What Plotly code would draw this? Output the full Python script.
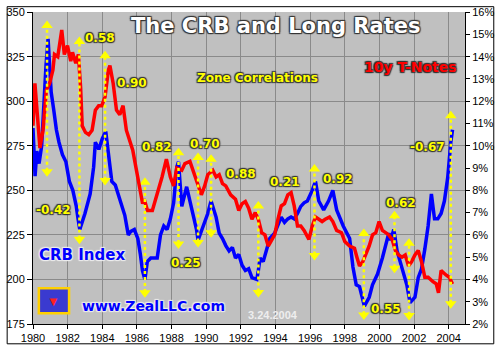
import plotly.graph_objects as go

# ---------------- data ----------------
crb_years = [1980.00, 1980.06, 1980.12, 1980.22, 1980.35, 1980.50, 1980.62, 1980.75, 1980.87, 1980.95,
             1981.05, 1981.20, 1981.35, 1981.50, 1981.70, 1981.90, 1982.10, 1982.30, 1982.50, 1982.60,
             1982.70, 1983.00, 1983.30, 1983.50, 1983.60, 1983.80, 1984.00, 1984.20, 1984.35, 1984.55,
             1984.75, 1984.90, 1985.10, 1985.30, 1985.50, 1985.65, 1985.85, 1986.05, 1986.20, 1986.32,
             1986.46, 1986.60, 1986.80, 1987.17, 1987.36, 1987.55, 1987.74, 1987.93, 1988.12, 1988.30,
             1988.40, 1988.59, 1988.87, 1989.06, 1989.25, 1989.44, 1989.53, 1989.81, 1990.09, 1990.28,
             1990.57, 1990.75, 1990.94, 1991.13, 1991.32, 1991.51, 1991.69, 1991.88, 1992.07, 1992.26,
             1992.45, 1992.64, 1992.92, 1993.01, 1993.11, 1993.29, 1993.48, 1993.67, 1993.95, 1994.14,
             1994.33, 1994.52, 1994.71, 1994.90, 1995.08, 1995.27, 1995.46, 1995.65, 1995.84, 1996.12,
             1996.31, 1996.50, 1996.78, 1997.06, 1997.31, 1997.53, 1997.91, 1998.28, 1998.47, 1998.66,
             1998.85, 1999.13, 1999.41, 1999.60, 1999.89, 2000.17, 2000.36, 2000.54, 2000.64, 2000.83,
             2001.02, 2001.20, 2001.39, 2001.58, 2001.77, 2002.05, 2002.24, 2002.43, 2002.62, 2002.81,
             2003.00, 2003.18, 2003.37, 2003.56, 2003.75, 2003.94, 2004.12, 2004.22]
crb_values = [285, 268, 258, 272, 265, 275, 300, 320, 335, 318,
              305, 295, 284, 277, 270, 266, 255, 250, 241, 234,
              228, 237, 248, 263, 277, 273, 279, 283, 272, 255,
              253, 248, 243, 236, 225, 227, 228, 223, 214, 205,
              200, 210, 212, 212, 225, 230, 228, 234, 243, 263,
              266, 241, 252, 244, 237, 228, 222, 230, 237, 244,
              235, 226, 223, 219, 216, 218, 212, 214, 208, 205,
              206, 201, 200, 205, 212, 210, 216, 223, 226, 230,
              235, 232, 234, 235, 234, 237, 241, 243, 244, 250,
              255, 244, 239, 244, 250, 239, 230, 223, 207, 197,
              196, 185, 190, 197, 203, 212, 219, 226, 222, 228,
              216, 210, 205, 197, 187, 190, 201, 206, 217, 230,
              248, 234, 234, 237, 244, 257, 277, 284]

tnote_years = [1980.00, 1980.11, 1980.25, 1980.40, 1980.58, 1980.77, 1980.96, 1981.15, 1981.24, 1981.43,
               1981.66, 1981.81, 1981.99, 1982.18, 1982.28, 1982.47, 1982.62, 1982.75, 1982.84, 1983.03,
               1983.22, 1983.41, 1983.60, 1983.79, 1983.97, 1984.16, 1984.35, 1984.44, 1984.63, 1984.82,
               1985.01, 1985.20, 1985.39, 1985.57, 1985.76, 1985.95, 1986.14, 1986.33, 1986.42, 1986.61,
               1986.89, 1987.17, 1987.45, 1987.70, 1987.93, 1988.12, 1988.30, 1988.59, 1988.77, 1989.06,
               1989.34, 1989.53, 1989.72, 1989.91, 1990.09, 1990.38, 1990.57, 1990.75, 1990.94, 1991.13,
               1991.41, 1991.69, 1991.88, 1992.07, 1992.26, 1992.45, 1992.64, 1992.83, 1993.01, 1993.20,
               1993.39, 1993.58, 1993.77, 1993.95, 1994.14, 1994.33, 1994.52, 1994.71, 1994.90, 1995.08,
               1995.27, 1995.46, 1995.65, 1995.93, 1996.12, 1996.31, 1996.50, 1996.69, 1996.87, 1997.12,
               1997.31, 1997.53, 1997.81, 1998.00, 1998.28, 1998.56, 1998.70, 1998.85, 1999.04, 1999.22,
               1999.41, 1999.60, 1999.79, 1999.98, 2000.17, 2000.36, 2000.54, 2000.73, 2000.92, 2001.11,
               2001.30, 2001.49, 2001.68, 2001.86, 2002.05, 2002.24, 2002.43, 2002.62, 2002.81, 2003.09,
               2003.28, 2003.41, 2003.56, 2003.84, 2004.03, 2004.22]
tnote_values = [10.9, 12.8, 11.4, 9.9, 10.7, 12.5, 12.8, 13.4, 14.1, 14.0,
                15.2, 14.1, 14.5, 13.8, 14.2, 13.7, 14.1, 12.6, 10.9, 10.6,
                10.5, 10.7, 11.6, 11.8, 11.8, 12.2, 13.4, 13.6, 12.8, 11.6,
                11.4, 11.8, 10.7, 10.3, 9.8, 9.0, 8.2, 7.4, 7.6, 7.1,
                7.1, 7.8, 8.6, 9.4, 8.6, 8.2, 9.0, 8.9, 9.2, 9.3,
                8.7, 8.2, 7.8, 8.2, 8.7, 8.9, 8.6, 8.7, 8.3, 8.2,
                7.8, 7.6, 7.1, 7.4, 7.5, 7.2, 6.7, 7.0, 6.7, 6.1,
                6.0, 5.5, 5.8, 6.0, 6.7, 7.3, 7.4, 7.8, 7.9, 7.3,
                6.4, 6.4, 6.2, 5.8, 6.4, 6.8, 6.7, 6.6, 6.7, 6.8,
                6.6, 6.2, 6.1, 5.7, 5.5, 5.4, 5.0, 4.6, 4.8, 5.1,
                5.5, 6.0, 6.1, 6.6, 6.2, 6.1, 6.0, 5.8, 5.3, 5.1,
                5.0, 5.1, 4.6, 4.8, 5.1, 5.3, 4.8, 4.1, 4.1, 3.9,
                3.8, 3.4, 4.4, 4.2, 4.1, 3.8]

# zone boundary arrows (year, top, bottom) in CRB units
arrow_years = [1980.81, 1982.68, 1984.16, 1986.46, 1988.40, 1989.53, 1990.28,
               1993.01, 1996.25, 1999.10, 2000.87, 2001.71, 2004.12]
arrow_tops = [345, 336, 328, 257, 273.6, 271, 270, 243.7, 264.5, 228.3, 238.2, 222.8, 294.4]
arrow_bottoms = [258, 220, 253, 190, 217.4, 218.3, 223.7, 190.2, 211, 177.5, 203.8, 177.2, 183.9]

# zone correlation labels
corr_labels = ["-0.42", "0.58", "0.90", "0.82", "0.25", "0.70", "0.88",
               "0.21", "0.92", "0.55", "0.62", "-0.67"]
corr_x = [1981.17, 1983.88, 1985.71, 1987.18, 1988.83, 1989.92, 1991.98,
          1994.52, 1997.61, 2000.40, 2001.24, 2002.77]
corr_y = [239, 335.7, 310.3, 274.1, 209.2, 275.9, 259, 254.5, 256.3, 183.3, 243, 274.1]

left_ticks = [175, 200, 225, 250, 275, 300, 325, 350]
right_ticks = list(range(2, 17))
right_labels = [f"{v}%" for v in right_ticks]
x_ticks = list(range(1980, 2005, 2))

# ---------------- figure ----------------
L, R, T, B = 27, 30, 6, 21
W, H = 500, 350
PW, PH = W - L - R, H - T - B

def px(x):
    return (x - L) / PW

def py(y):
    return (H - B - y) / PH

fig = go.Figure()

fig.add_trace(go.Scatter(x=tnote_years, y=tnote_values, yaxis="y2", mode="lines",
                         line=dict(color="#FF0000", width=3.5), hoverinfo="skip"))
fig.add_trace(go.Scatter(x=crb_years, y=crb_values, mode="lines",
                         line=dict(color="#0000FF", width=3.5), hoverinfo="skip"))

YEL = "#FFFF00"
for xa, t, b in zip(arrow_years, arrow_tops, arrow_bottoms):
    fig.add_shape(type="line", x0=xa, x1=xa, y0=b + 3, y1=t - 3, xref="x", yref="y",
                  line=dict(color=YEL, width=2.5, dash="dot"), layer="above")

fig.add_trace(go.Scatter(x=arrow_years, y=[t - 2.5 for t in arrow_tops], mode="markers",
                         marker=dict(symbol="triangle-up", size=10, color=YEL, line=dict(width=0)),
                         hoverinfo="skip"))
fig.add_trace(go.Scatter(x=arrow_years, y=[b + 2.5 for b in arrow_bottoms], mode="markers",
                         marker=dict(symbol="triangle-down", size=10, color=YEL, line=dict(width=0)),
                         hoverinfo="skip"))

dark_outline = "1px 1px 1px #333, -1px -1px 1px #333, 1px -1px 1px #333, -1px 1px 1px #333"
light_outline = "1px 1px 1px #eee, -1px -1px 1px #eee, 1px -1px 1px #eee, -1px 1px 1px #eee"
BOLD = "DejaVu Sans, Verdana, sans-serif"

for txt, xx, yy in zip(corr_labels, corr_x, corr_y):
    fig.add_annotation(x=xx, y=yy, xref="x", yref="y", text=txt, showarrow=False,
                       xanchor="center", yanchor="middle",
                       font=dict(family=BOLD, size=12, color=YEL, weight="bold", shadow=dark_outline))

texts = [
    ("The CRB and Long Rates", 276, 20, 21, "#FFFFFF", dark_outline),
    ("Zone Correlations", 257, 74, 12, YEL, dark_outline),
    ("10y T-Notes", 414, 63, 14, "#FF0000", dark_outline),
    ("CRB Index", 77, 258, 15, "#0000FF", light_outline),
    ("www.ZealLLC.com", 151, 310, 14, "#0000FF", light_outline),
]
for txt, x0, y0, sz, col, sh in texts:
    fig.add_annotation(x=px(x0), y=py(y0), xref="paper", yref="paper", text=txt, showarrow=False,
                       xanchor="center", yanchor="middle",
                       font=dict(family=BOLD, size=sz, color=col, weight="bold", shadow=sh))

fig.add_annotation(x=px(273), y=py(320), xref="paper", yref="paper", text="3.24.2004",
                   showarrow=False, xanchor="center", yanchor="middle",
                   font=dict(family="Arial, Liberation Sans", size=11,
                             color="#EEEEEE", weight="bold"))

# logo
fig.add_shape(type="rect", xref="paper", yref="paper", x0=px(33), x1=px(64), y0=py(318), y1=py(292),
              fillcolor="#3A3AD0", line=dict(color="#FFD000", width=2.5), layer="above")
fig.add_annotation(x=px(48.5), y=py(305), xref="paper", yref="paper", text="▼", showarrow=False,
                   xanchor="center", yanchor="middle",
                   font=dict(size=13, color="#FF2020"))

# figure border
fig.add_shape(type="rect", xref="paper", yref="paper", x0=px(0.5), x1=px(W - 0.5),
              y0=py(H - 0.5), y1=py(0.5), line=dict(color="black", width=1), layer="above")

tickfont = dict(family="Arial, Liberation Sans", size=11, color="black")
fig.update_layout(
    width=W, height=H, margin=dict(l=L, r=R, t=T, b=B),
    paper_bgcolor="white", plot_bgcolor="#C0C0C0", showlegend=False,
    xaxis=dict(range=[1980, 2004.94], tickvals=x_ticks, ticks="outside", ticklen=4,
               tickcolor="black", showline=True, linecolor="black", linewidth=1,
               gridcolor="#8A8A8A", gridwidth=1, tickfont=tickfont, zeroline=False,
               ticklabeloverflow="allow", fixedrange=True),
    yaxis=dict(range=[175, 350.08], tickvals=left_ticks, ticks="outside", ticklen=5,
               tickcolor="black", showline=True, linecolor="black", linewidth=1,
               gridcolor="#8A8A8A", gridwidth=1, tickfont=tickfont, zeroline=False,
               ticklabeloverflow="allow"),
    yaxis2=dict(range=[2, 16.006], tickvals=right_ticks, ticktext=right_labels, overlaying="y",
                side="right", ticks="outside", ticklen=4, tickcolor="black", showline=True,
                linecolor="black", linewidth=1, showgrid=False, tickfont=tickfont,
                zeroline=False, ticklabeloverflow="allow"),
)

fig.write_html("out.html")
